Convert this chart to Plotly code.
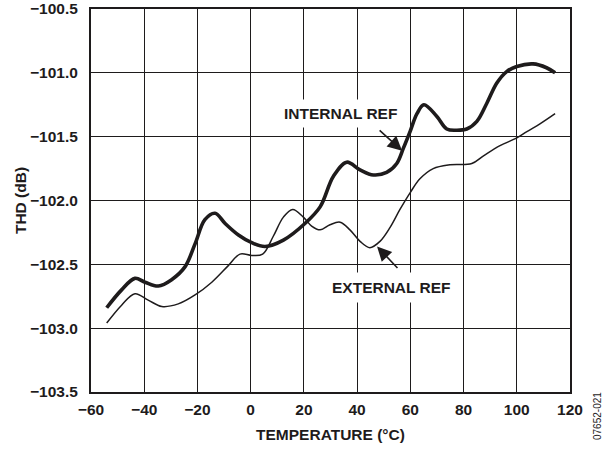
import plotly.graph_objects as go

# THD vs. temperature, internal and external reference
temp_internal = [-54.1, -48.5, -43.5, -39.7, -34.7, -29.7, -24.7, -20.9, -17.2, -13.4,
                 -9.6, -4.6, 0.4, 5.4, 12.3, 20.4, 26.1, 31.1, 36.1, 41.1, 46.1, 51.1,
                 54.9, 57.4, 59.9, 62.5, 65.1, 69.9, 73.7, 77.4, 81.2, 85.0, 88.7, 92.5,
                 96.2, 100.0, 106.1, 111.2, 114.4]
thd_internal = [-102.84, -102.70, -102.61, -102.64, -102.67, -102.62, -102.52, -102.34, -102.15, -102.10,
                -102.18, -102.27, -102.33, -102.36, -102.31, -102.18, -102.05, -101.81, -101.70, -101.76,
                -101.80, -101.78, -101.71, -101.59, -101.46, -101.32, -101.25, -101.34, -101.44, -101.45,
                -101.44, -101.38, -101.24, -101.08, -100.99, -100.95, -100.93, -100.96, -101.00]

temp_external = [-54.1, -48.5, -43.5, -38.5, -33.4, -27.2, -20.9, -14.6, -8.4, -4.0,
                 0.4, 4.5, 8.5, 12.3, 15.8, 19.8, 22.9, 26.1, 29.8, 33.6, 37.3, 41.1,
                 44.8, 48.6, 52.4, 56.1, 59.9, 63.6, 68.6, 74.9, 83.1, 87.5, 93.7, 100.0,
                 103.8, 108.7, 114.4]
thd_external = [-102.96, -102.82, -102.73, -102.78, -102.83, -102.81, -102.74, -102.64, -102.51, -102.42,
                -102.43, -102.42, -102.28, -102.13, -102.07, -102.13, -102.20, -102.23, -102.19, -102.17,
                -102.23, -102.32, -102.37, -102.32, -102.21, -102.07, -101.94, -101.83, -101.75, -101.72,
                -101.71, -101.65, -101.57, -101.51, -101.46, -101.40, -101.32]

x_ticks = [-60, -40, -20, 0, 20, 40, 60, 80, 100, 120]
y_ticks = [-103.5, -103.0, -102.5, -102.0, -101.5, -101.0, -100.5]

INK = "#1e1b1c"
FONT = "Liberation Sans, Arial, Helvetica, sans-serif"

MARGIN = dict(l=91, r=41, t=9, b=58)
W, H = 611, 450

fig = go.Figure()
fig.add_trace(go.Scatter(x=temp_internal, y=thd_internal, mode="lines",
                         line=dict(color=INK, width=3.6, shape="spline", smoothing=1.0),
                         name="INTERNAL REF", showlegend=False))
fig.add_trace(go.Scatter(x=temp_external, y=thd_external, mode="lines",
                         line=dict(color=INK, width=1.5, shape="spline", smoothing=1.0),
                         name="EXTERNAL REF", showlegend=False))

bold = dict(family=FONT, size=15.5, color=INK, weight="bold")

# curve labels with arrows
fig.add_annotation(x=33.6, y=-101.32, text="INTERNAL REF", showarrow=False,
                   font=bold, bgcolor="white", borderpad=5)
fig.add_annotation(x=56.9, y=-101.61, ax=47.9, ay=-101.44, axref="x", ayref="y",
                   text="", showarrow=True, arrowhead=2, arrowsize=1.8,
                   arrowwidth=1.6, arrowcolor=INK)
fig.add_annotation(x=53.1, y=-102.68, text="EXTERNAL REF", showarrow=False,
                   font=bold, bgcolor="white", borderpad=6)
fig.add_annotation(x=47.5, y=-102.36, ax=55.7, ay=-102.54, axref="x", ayref="y",
                   text="", showarrow=True, arrowhead=2, arrowsize=1.8,
                   arrowwidth=1.6, arrowcolor=INK)

# figure code, rotated, at the right edge below the plot
plot_w = W - MARGIN["l"] - MARGIN["r"]
plot_h = H - MARGIN["t"] - MARGIN["b"]
fig.add_annotation(x=(597 - MARGIN["l"]) / plot_w, y=(H - MARGIN["b"] - 416) / plot_h,
                   xref="paper", yref="paper", text="07652-021",
                   showarrow=False, textangle=-90, xanchor="center", yanchor="middle",
                   font=dict(family=FONT, size=10, color=INK, weight="normal"))

fig.update_layout(
    width=W, height=H,
    margin=MARGIN,
    paper_bgcolor="white", plot_bgcolor="white",
    font=bold,
    xaxis=dict(range=[-60, 120], tickvals=x_ticks, showgrid=True, gridcolor=INK, gridwidth=1,
               showline=True, linecolor=INK, linewidth=2, mirror=True, zeroline=False,
               ticks="", ticklabelstandoff=2, automargin=False,
               title=dict(text="TEMPERATURE (°C)", font=bold, standoff=13)),
    yaxis=dict(range=[-103.5, -100.5], tickvals=y_ticks, tickformat=".1f",
               showgrid=True, gridcolor=INK, gridwidth=1,
               showline=True, linecolor=INK, linewidth=2, mirror=True, zeroline=False,
               ticks="", ticklabelstandoff=8, automargin=False,
               title=dict(text="THD (dB)", font=bold, standoff=0)),
)

fig.write_html("out.html")
